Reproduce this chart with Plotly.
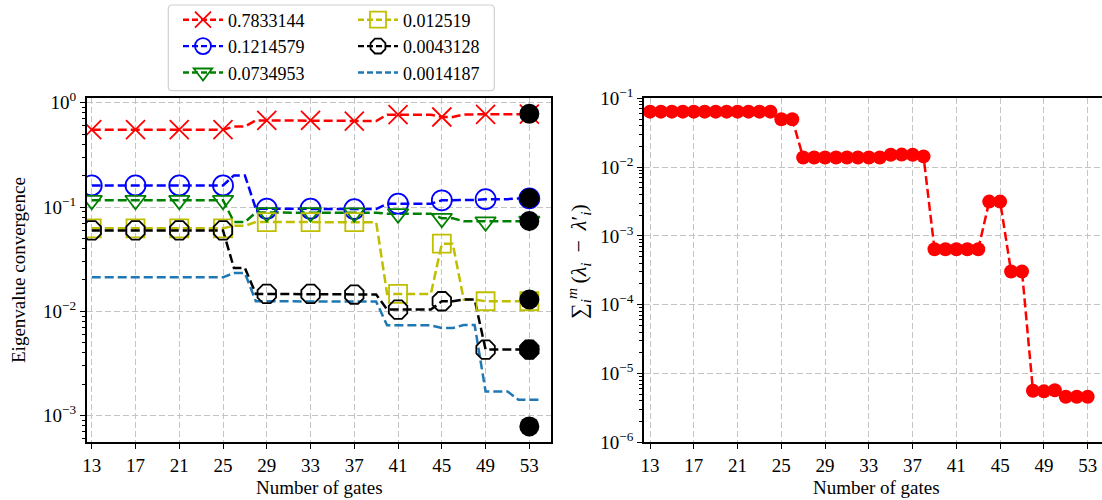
import plotly.graph_objects as go

# ---------------- data ----------------
gates_left = list(range(13, 55))
gates_right = list(range(13, 54))
marker_gates = [13, 17, 21, 25, 29, 33, 37, 41, 45, 49, 53]

labels = ["0.7833144", "0.1214579", "0.0734953", "0.012519", "0.0043128", "0.0014187"]

ev1 = [0.551]*13 + [0.59]*2 + [0.677]*8 + [0.667]*4 + [0.767]*5 + [0.729]*2 + [0.772]*2 + [0.774]*3 + [0.776]*3
ev2 = [0.161]*13 + [0.201]*2 + [0.0964]*8 + [0.0955]*4 + [0.1076]*5 + [0.116]*2 + [0.117]*2 + [0.119]*3 + [0.121]*3
ev3 = [0.116]*13 + [0.0718]*2 + [0.0885]*8 + [0.088]*4 + [0.0863]*5 + [0.078]*2 + [0.073]*2 + [0.0722]*3 + [0.0731]*3
ev4 = [0.0625]*13 + [0.066]*2 + [0.0718]*8 + [0.0715]*4 + [0.0147]*5 + [0.0445]*2 + [0.013]*2 + [0.0125]*3 + [0.0125]*3
ev5 = [0.0597]*13 + [0.026]*2 + [0.0147]*8 + [0.0145]*4 + [0.0104]*5 + [0.0125]*2 + [0.013]*2 + [0.0043]*3 + [0.0043]*3
ev6 = [0.0212]*13 + [0.0233]*2 + [0.0125]*8 + [0.0124]*4 + [0.00734]*5 + [0.00692]*2 + [0.0074]*2 + [0.00171]*3 + [0.00142]*3

exact_x = [53, 53, 53, 53, 53, 53]
exact_vals = [0.7833144, 0.1214579, 0.0734953, 0.013, 0.0043128, 0.00079]

err_sum = ([0.064]*12 + [0.0497]*2 + [0.0138]*8 + [0.0151, 0.0152, 0.0151, 0.0143]
           + [0.00064]*5 + [0.00315]*2 + [0.000304]*2 + [5.6e-6, 5.5e-6, 5.7e-6] + [4.6e-6]*3)

x_ticks = [13, 17, 21, 25, 29, 33, 37, 41, 45, 49, 53]
left_yticks = [1e-3, 1e-2, 1e-1, 1e0]
left_yticktext = ["10<sup>−3</sup>", "10<sup>−2</sup>", "10<sup>−1</sup>", "10<sup>0</sup>"]
right_yticks = [1e-6, 1e-5, 1e-4, 1e-3, 1e-2, 1e-1]
right_yticktext = ["10<sup>−6</sup>", "10<sup>−5</sup>", "10<sup>−4</sup>", "10<sup>−3</sup>", "10<sup>−2</sup>", "10<sup>−1</sup>"]

# ---------------- styling ----------------
W, H = 1102, 500
FONT = "Liberation Serif"
FS = 19


def px(x):
    return x / W


def py(y):
    return 1 - y / H


series = [
    (ev1, "red", "x-thin-open", 19),
    (ev2, "blue", "circle-open", 20),
    (ev3, "green", "triangle-down-open", 18),
    (ev4, "#bfbf00", "square-open", 18),
    (ev5, "black", "octagon-open", 20),
    (ev6, "#1f77b4", None, 0),
]
legend_of = ["legend", "legend", "legend", "legend2", "legend2", "legend2"]
DASH = "9px,4px"

fig = go.Figure()
# full lines (every gate)
for vals, col, sym, size in series:
    fig.add_trace(go.Scatter(
        x=gates_left, y=vals, mode="lines", showlegend=False,
        line=dict(color=col, width=2.5, dash=DASH), xaxis="x", yaxis="y",
    ))
# markers every 4 gates
for vals, col, sym, size in series:
    if not sym:
        continue
    my = [v for g, v in zip(gates_left, vals) if g in marker_gates]
    fig.add_trace(go.Scatter(
        x=marker_gates, y=my, mode="markers", showlegend=False,
        marker=dict(symbol=sym, size=size, color=col, line=dict(color=col, width=1.8)),
        xaxis="x", yaxis="y",
    ))
# legend-only entries
for (vals, col, sym, size), lab, lg in zip(series, labels, legend_of):
    fig.add_trace(go.Scatter(
        x=[None], y=[None], name=lab, legend=lg,
        mode="lines+markers" if sym else "lines",
        line=dict(color=col, width=2.4, dash="6px,3px"),
        marker=dict(symbol=sym or "circle", size=16, color=col, line=dict(color=col, width=1.8)),
        xaxis="x", yaxis="y",
    ))

fig.add_trace(go.Scatter(
    x=exact_x, y=exact_vals, mode="markers", showlegend=False,
    marker=dict(symbol="circle", size=20, color="black"),
    xaxis="x", yaxis="y",
))

fig.add_trace(go.Scatter(
    x=gates_right, y=err_sum, mode="lines+markers", showlegend=False,
    line=dict(color="red", width=2.5, dash=DASH),
    marker=dict(symbol="circle", size=14, color="red"),
    xaxis="x2", yaxis="y2",
))

grid = dict(showgrid=True, gridcolor="#c4c4c4", gridwidth=1.3, griddash="6px,3px")
axline = dict(showline=True, linecolor="black", linewidth=1.5, ticks="outside",
              ticklen=5, tickwidth=1.3, tickcolor="black", zeroline=False,
              automargin=False,
              tickfont=dict(family=FONT, size=FS, color="black"))

ydom = [py(442.3), py(98.3)]

left_minor = [m * 10.0**e for e in (-4, -3, -2, -1) for m in range(2, 10)]
right_minor = [m * 10.0**e for e in (-6, -5, -4, -3, -2) for m in range(2, 10)]

fig.update_layout(
    template="none",
    width=W, height=H, margin=dict(l=0, r=0, t=0, b=0, autoexpand=False),
    paper_bgcolor="white", plot_bgcolor="white",
    font=dict(family=FONT, size=FS, color="black"),
    xaxis=dict(domain=[px(86.7), px(551)], range=[12.54, 54.98], anchor="y",
               tickvals=x_ticks, mirror=True, **axline, **grid),
    yaxis=dict(domain=ydom, type="log", range=[-3.255, 0.042], anchor="x",
               tickvals=left_yticks, ticktext=left_yticktext, mirror=True,
               minor=dict(tickvals=left_minor, ticks="outside", ticklen=3,
                          tickcolor="black", tickwidth=1, showgrid=False),
               **axline, **grid),
    xaxis2=dict(domain=[px(644), 1.0], range=[12.45, 54.31], anchor="y2",
                tickvals=x_ticks, mirror=True, **axline, **grid),
    yaxis2=dict(domain=ydom, type="log", range=[-6, -1], anchor="x2",
                tickvals=right_yticks, ticktext=right_yticktext, mirror=False,
                minor=dict(tickvals=right_minor, ticks="outside", ticklen=3,
                           tickcolor="black", tickwidth=1, showgrid=False),
                **axline, **grid),
    legend=dict(x=px(178), y=0.997, xanchor="left", yanchor="top",
                bgcolor="rgba(0,0,0,0)", borderwidth=0, tracegroupgap=0,
                font=dict(family=FONT, size=18, color="black"), itemwidth=40),
    legend2=dict(x=px(353), y=0.997, xanchor="left", yanchor="top",
                 bgcolor="rgba(0,0,0,0)", borderwidth=0, tracegroupgap=0,
                 font=dict(family=FONT, size=18, color="black"), itemwidth=40),
    showlegend=True,
)

# rounded legend frame
x0, x1, y0, y1, r = 168.3, 494.3, 5, 90.7, 4
path = (f"M {px(x0 + r)},{py(y0)} L {px(x1 - r)},{py(y0)} Q {px(x1)},{py(y0)} {px(x1)},{py(y0 + r)} "
        f"L {px(x1)},{py(y1 - r)} Q {px(x1)},{py(y1)} {px(x1 - r)},{py(y1)} "
        f"L {px(x0 + r)},{py(y1)} Q {px(x0)},{py(y1)} {px(x0)},{py(y1 - r)} "
        f"L {px(x0)},{py(y0 + r)} Q {px(x0)},{py(y0)} {px(x0 + r)},{py(y0)} Z")
fig.add_shape(type="path", path=path, xref="paper", yref="paper",
              line=dict(color="#d0d0d0", width=1.2), fillcolor="rgba(255,255,255,0.8)",
              layer="below")

ann = dict(xref="paper", yref="paper", showarrow=False, xanchor="center", yanchor="middle",
           font=dict(family=FONT, size=FS, color="black"))
fig.add_annotation(x=px(319), y=py(487), text="Number of gates", **ann)
fig.add_annotation(x=px(876), y=py(487), text="Number of gates", **ann)
fig.add_annotation(x=px(18), y=py(270), text="Eigenvalue convergence", textangle=-90, **ann)
ann_r = dict(ann)
ann_r["font"] = dict(family=FONT, size=22, color="black")
fig.add_annotation(x=px(578), y=py(262),
                   text=("∑<sub><i>i</i></sub><sup><i>m</i></sup>\u2009"
                         "(<i>λ<sub>i</sub></i>\u2009 − \u2009<i>λ</i>′<sub><i>i</i></sub>)"),
                   textangle=-90, **ann_r)

fig.write_html(
    "out.html",
    config={"displayModeBar": False},
    post_script="document.body.style.margin='0';document.body.style.overflow='hidden';",
)
